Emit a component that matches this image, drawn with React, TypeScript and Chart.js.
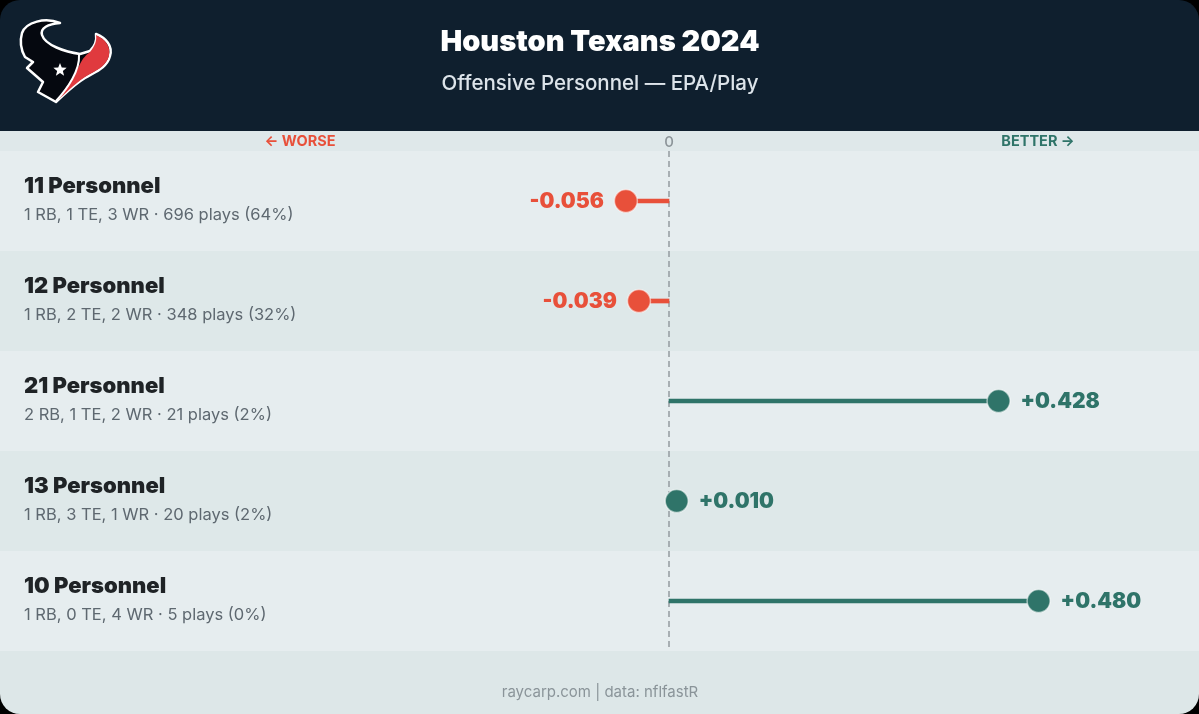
import React, { useEffect, useRef } from "react";
import { Chart, registerables } from "chart.js";

Chart.register(...registerables);

const categories = ["11 Personnel", "12 Personnel", "21 Personnel", "13 Personnel", "10 Personnel"];
const details = [
  "1 RB, 1 TE, 3 WR · 696 plays (64%)",
  "1 RB, 2 TE, 2 WR · 348 plays (32%)",
  "2 RB, 1 TE, 2 WR · 21 plays (2%)",
  "1 RB, 3 TE, 1 WR · 20 plays (2%)",
  "1 RB, 0 TE, 4 WR · 5 plays (0%)",
];
const epa = [-0.056, -0.039, 0.428, 0.01, 0.48];

const TITLE = "Houston Texans 2024";
const SUBTITLE = "Offensive Personnel — EPA/Play";
const FOOTER = "raycarp.com | data: nflfastR";

const RED = "#e8503a";
const TEAL = "#2f7469";
const NAVY = "#0f1f2e";
const FONT = "Inter, 'Open Sans', sans-serif";

const W = 1199;
const H = 714;

function drawLogo(ctx: CanvasRenderingContext2D) {
  ctx.save();
  ctx.lineJoin = "round";
  ctx.beginPath();
  ctx.moveTo(22, 33);
  ctx.bezierCurveTo(26, 22, 45, 17, 60, 23);
  ctx.bezierCurveTo(48, 24, 40, 28, 42, 35);
  ctx.bezierCurveTo(45, 45, 65, 52, 80, 54);
  ctx.lineTo(90, 51);
  ctx.bezierCurveTo(95, 46, 97, 40, 96, 34);
  ctx.bezierCurveTo(106, 38, 113, 46, 110, 56);
  ctx.bezierCurveTo(107, 68, 95, 72, 85, 78);
  ctx.bezierCurveTo(72, 86, 64, 95, 56, 102);
  ctx.lineTo(38, 92);
  ctx.lineTo(43, 82);
  ctx.lineTo(27, 68);
  ctx.lineTo(33, 62);
  ctx.lineTo(25, 57);
  ctx.bezierCurveTo(20, 48, 20, 40, 22, 33);
  ctx.closePath();
  ctx.fillStyle = "#05080f";
  ctx.fill();
  ctx.strokeStyle = "#ffffff";
  ctx.lineWidth = 2.5;
  ctx.stroke();
  ctx.beginPath();
  ctx.moveTo(90, 52);
  ctx.bezierCurveTo(95, 46, 97, 40, 96, 35);
  ctx.bezierCurveTo(105, 39, 111, 46, 109, 56);
  ctx.bezierCurveTo(106, 67, 95, 71, 85, 77);
  ctx.bezierCurveTo(73, 85, 65, 94, 58, 100);
  ctx.bezierCurveTo(66, 88, 74, 76, 80, 64);
  ctx.bezierCurveTo(83, 58, 86, 55, 90, 52);
  ctx.closePath();
  ctx.fillStyle = "#e03a3e";
  ctx.fill();
  ctx.beginPath();
  ctx.moveTo(79, 55);
  ctx.bezierCurveTo(80, 70, 68, 88, 56, 101);
  ctx.strokeStyle = "#ffffff";
  ctx.lineWidth = 2;
  ctx.stroke();
  const cx = 60, cy = 70, R = 7, r = 3;
  ctx.beginPath();
  for (let i = 0; i < 10; i++) {
    const a = -Math.PI / 2 + (i * Math.PI) / 5;
    const rad = i % 2 === 0 ? R : r;
    const px = cx + rad * Math.cos(a);
    const py = cy + rad * Math.sin(a);
    if (i === 0) ctx.moveTo(px, py);
    else ctx.lineTo(px, py);
  }
  ctx.closePath();
  ctx.fillStyle = "#ffffff";
  ctx.fill();
  ctx.restore();
}

const backgroundPlugin = {
  id: "bgPlugin",
  beforeDraw(chart: any) {
    const ctx: CanvasRenderingContext2D = chart.ctx;
    const y = chart.scales.y;
    const x = chart.scales.x;
    ctx.save();
    ctx.fillStyle = "#dde7e8";
    ctx.fillRect(0, 0, W, H);
    ctx.fillStyle = NAVY;
    ctx.fillRect(0, 0, W, 131);
    ctx.fillStyle = "#dfe8ea";
    ctx.fillRect(0, 131, W, chart.chartArea.top - 131);
    const step = (chart.chartArea.bottom - chart.chartArea.top) / categories.length;
    categories.forEach((_, i) => {
      const c = y.getPixelForValue(i);
      ctx.fillStyle = i % 2 === 0 ? "#e6edef" : "#dee8e9";
      ctx.fillRect(0, c - step / 2, W, step);
    });
    ctx.fillStyle = "#ffffff";
    ctx.textAlign = "center";
    ctx.textBaseline = "middle";
    ctx.font = `900 29px ${FONT}`;
    ctx.fillText(TITLE, 600, 42);
    ctx.fillStyle = "#dde4ea";
    ctx.font = `500 20.5px ${FONT}`;
    ctx.fillText(SUBTITLE, 600, 84);
    drawLogo(ctx);
    const zx = x.getPixelForValue(0);
    ctx.font = `700 14.5px ${FONT}`;
    ctx.fillStyle = RED;
    ctx.fillText("← WORSE", 300, 142);
    ctx.fillStyle = TEAL;
    ctx.fillText("BETTER →", 1038, 142);
    ctx.fillStyle = "#8b9398";
    ctx.font = `500 15px ${FONT}`;
    ctx.fillText("0", zx, 142);
    ctx.fillStyle = "#8a9499";
    ctx.font = `400 15px ${FONT}`;
    ctx.fillText(FOOTER, 600, 692);
    ctx.beginPath();
    ctx.setLineDash([6, 4]);
    ctx.strokeStyle = "#949ba0";
    ctx.lineWidth = 1.5;
    ctx.moveTo(zx, chart.chartArea.top);
    ctx.lineTo(zx, chart.chartArea.bottom);
    ctx.stroke();
    ctx.setLineDash([]);
    ctx.textAlign = "left";
    categories.forEach((cat, i) => {
      const c = y.getPixelForValue(i);
      ctx.fillStyle = "#1f2326";
      ctx.font = `900 22px ${FONT}`;
      ctx.fillText(cat, 24, c - 15);
      ctx.fillStyle = "#5e6870";
      ctx.font = `400 16.5px ${FONT}`;
      ctx.fillText(details[i], 24, c + 14);
    });
    ctx.restore();
  },
  afterDatasetsDraw(chart: any) {
    const ctx: CanvasRenderingContext2D = chart.ctx;
    const meta = chart.getDatasetMeta(1);
    ctx.save();
    ctx.font = `900 21px ${FONT}`;
    ctx.textBaseline = "middle";
    meta.data.forEach((pt: any, i: number) => {
      const v = epa[i];
      const txt = (v >= 0 ? "+" : "") + v.toFixed(3);
      ctx.fillStyle = v >= 0 ? TEAL : RED;
      if (v >= 0) {
        ctx.textAlign = "left";
        ctx.fillText(txt, pt.x + 22, pt.y + 1);
      } else {
        ctx.textAlign = "right";
        ctx.fillText(txt, pt.x - 22, pt.y + 1);
      }
    });
    ctx.restore();
  },
};

export default function App() {
  const ref = useRef<HTMLCanvasElement | null>(null);
  useEffect(() => {
    document.body.style.margin = "0";
    document.body.style.background = "#000";
    if (!ref.current) return;
    const colors = epa.map((v) => (v >= 0 ? TEAL : RED));
    const chart = new Chart(ref.current, {
      type: "bar",
      data: {
        labels: categories,
        datasets: [
          {
            type: "bar",
            data: epa.map((v) => [0, v]) as any,
            backgroundColor: colors,
            barThickness: 4,
            borderSkipped: false,
            indexAxis: "y",
            order: 2,
          } as any,
          {
            type: "line",
            data: epa,
            showLine: false,
            pointRadius: 11.5,
            pointBackgroundColor: colors,
            pointBorderColor: "rgba(255,255,255,0.55)",
            pointBorderWidth: 1.5,
            indexAxis: "y",
            order: 1,
          } as any,
        ],
      },
      options: {
        indexAxis: "y",
        animation: false,
        responsive: false,
        maintainAspectRatio: false,
        layout: { padding: { top: 151, bottom: 63, left: 207, right: 68 } },
        plugins: { legend: { display: false }, tooltip: { enabled: false } },
        scales: {
          x: { type: "linear", min: -0.6, max: 0.6, display: false },
          y: { type: "category", offset: true, display: false },
        },
      },
      plugins: [backgroundPlugin],
    });
    return () => chart.destroy();
  }, []);
  return (
    <div style={{ width: W, height: H, borderRadius: 20, overflow: "hidden", position: "relative" }}>
      <canvas ref={ref} width={W} height={H} style={{ display: "block", width: W, height: H }} />
    </div>
  );
}
